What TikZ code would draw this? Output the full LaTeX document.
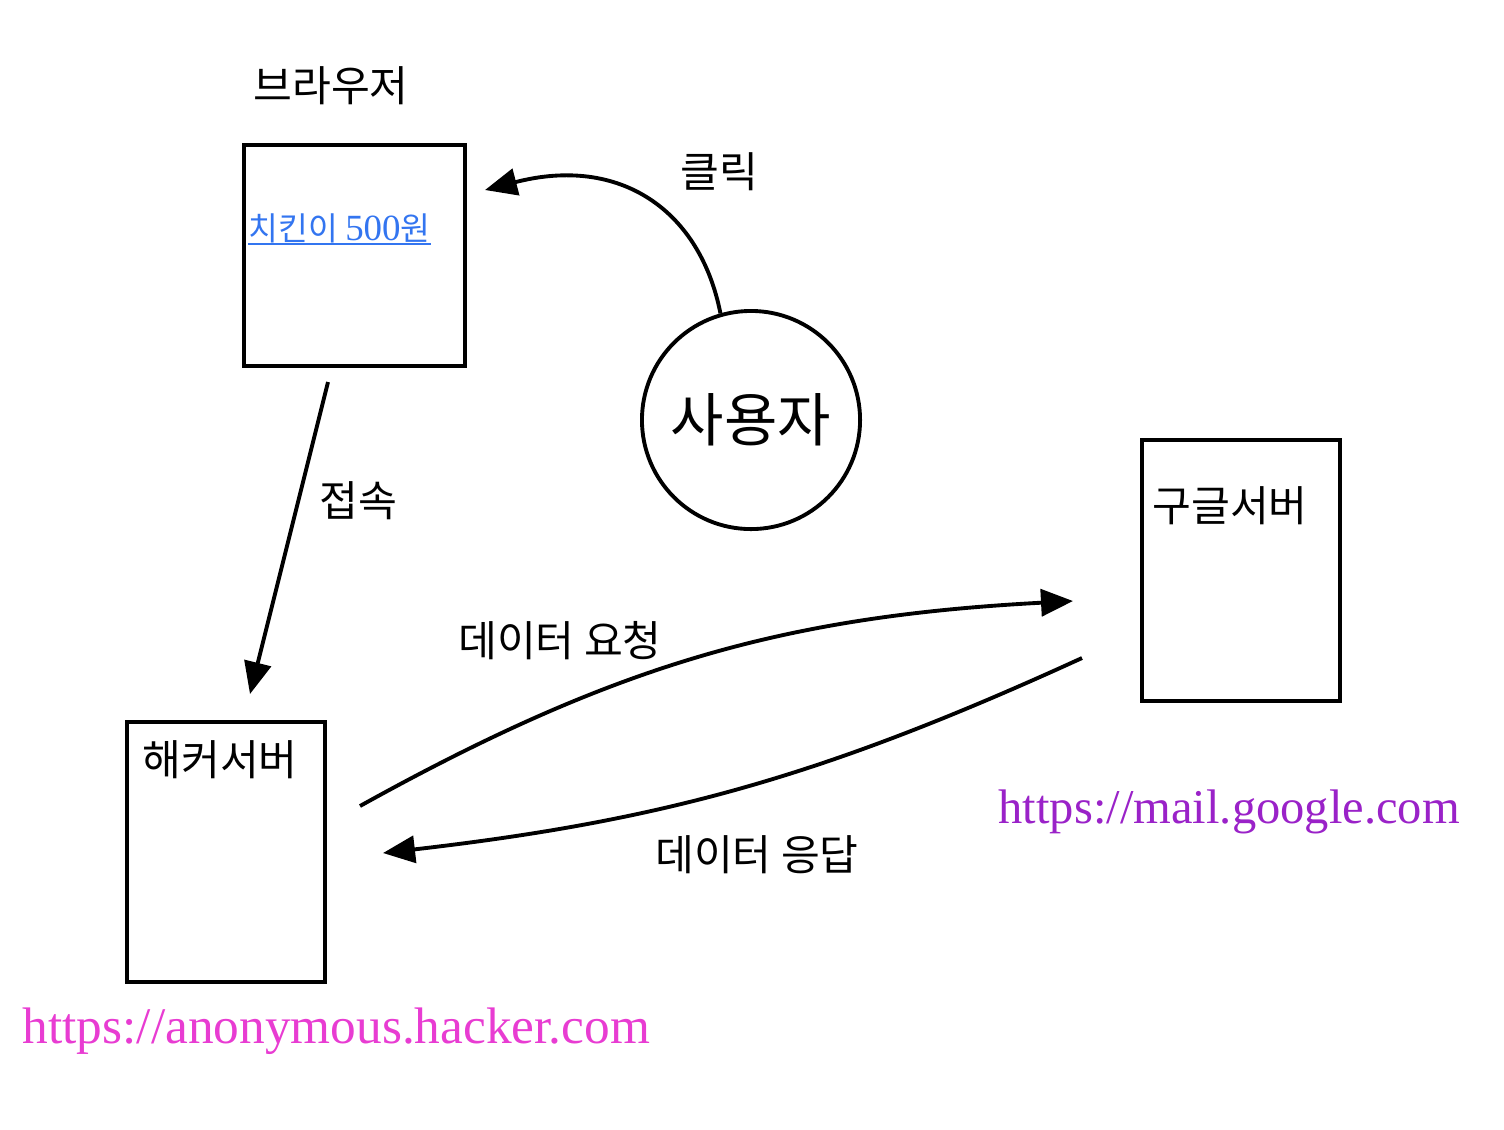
\documentclass[tikz,border=0pt]{standalone}
\usepackage{fontspec}
\setmainfont{Liberation Serif}
\newfontfamily\kr{Noto Sans CJK KR}
\newfontfamily\lat{Liberation Serif}
\usetikzlibrary{arrows.meta}
\definecolor{linkblue}{HTML}{3375F0}
\definecolor{hackpink}{HTML}{E83CD2}
\definecolor{mailpurple}{HTML}{9A22C8}
\tikzset{
  box/.style={draw, line width=1.1pt, inner sep=0pt},
  krlabel/.style={font=\kr\fontsize{12}{14}\selectfont, inner sep=0pt},
  url/.style={inner sep=0pt, anchor=base west},
  flow/.style={line width=1.1pt, -{Triangle[length=0.32cm, width=0.27cm]}}
}
\begin{document}
\begin{tikzpicture}[x=0.01cm, y=-0.01cm]
        \useasboundingbox (0,0) rectangle (1504,1129);

        % boxes and the user
        \node[box, minimum width=2.21cm, minimum height=2.21cm] (browser) at (354.5,255.5) {};
        \node[box, minimum width=1.98cm, minimum height=2.60cm] (hacker) at (226,852) {};
        \node[box, minimum width=1.98cm, minimum height=2.61cm] (google) at (1241,570.5) {};
        \node[box, circle, minimum size=2.18cm] (user) at (751,420) {};

        % texts
        \node[krlabel] (browserlbl) at (331,86) {브라우저};
        \node[krlabel] (hackerlbl) at (220,760) {해커서버};
        \node[krlabel] (googlelbl) at (1230,506) {구글서버};
        \node[krlabel, font=\kr\fontsize{16.5}{19}\selectfont] (userlbl) at (user) {사용자};
        \node[krlabel] (clicklbl) at (719,172) {클릭};
        \node[krlabel] (visitlbl) at (358,501) {접속};
        \node[krlabel] (reqlbl) at (560,641) {데이터 요청};
        \node[krlabel] (resplbl) at (757,855) {데이터 응답};
        \node[url, text=linkblue] (link) at (248,240)
          {\kr\fontsize{9.2}{11}\selectfont 치킨이 {\lat\fontsize{10.5}{12}\selectfont 500}원};
        \node[url, text=hackpink, font=\fontsize{14.6}{17}\selectfont] (hackurl) at (22,1043) {https://anonymous.hacker.com};
        \node[url, text=mailpurple, font=\fontsize{13.8}{16}\selectfont] (mailurl) at (998,823) {https://mail.google.com};
        \draw[linkblue, line width=0.6pt] ([yshift=-1.2pt]link.base west) -- ([yshift=-1.2pt]link.base east);

        % free ends of the connectors
        \coordinate (clickend) at (485,190);
        \coordinate (visitstart) at (328,382);
        \coordinate (visitend) at (250,694);
        \coordinate (reqstart) at (360,806);
        \coordinate (reqend) at (1073,601);
        \coordinate (respstart) at (1082,658);
        \coordinate (respend) at (383,853);

        % connectors
        \draw[flow] (user.106) .. controls (700,210) and (620,155) .. (clickend);
        \draw[flow] (visitstart) -- (visitend);
        \draw[flow, bend left=13] (reqstart) to (reqend);
        \draw[flow, bend left=9] (respstart) to (respend);
\end{tikzpicture}
\end{document}
